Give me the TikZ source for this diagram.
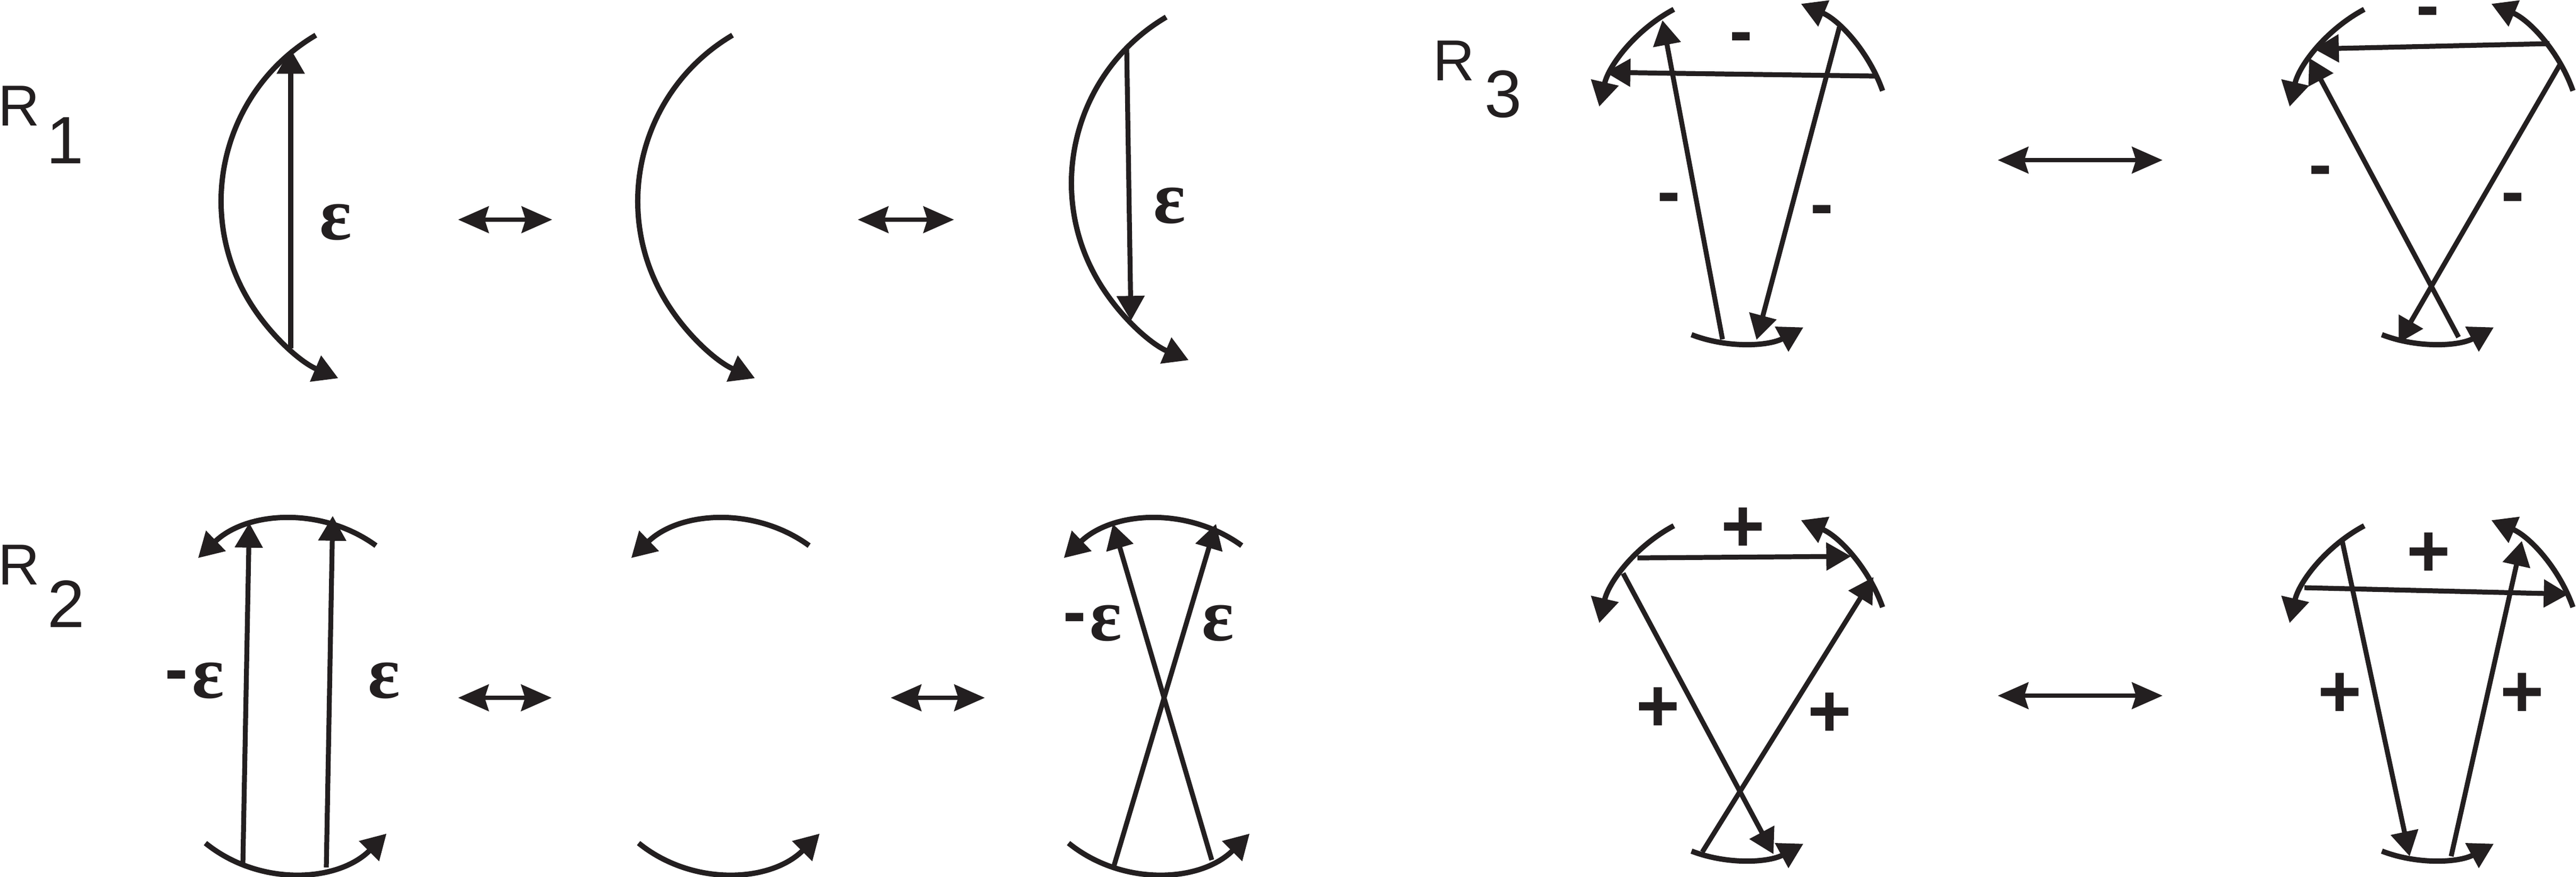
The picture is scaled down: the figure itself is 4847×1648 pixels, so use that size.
\documentclass[tikz,border=0pt]{standalone}
\usepackage{fontspec}
\setmainfont{Liberation Serif}
\setsansfont{Liberation Sans}
\usetikzlibrary{arrows.meta}
\definecolor{ink}{RGB}{35,31,32}

\begin{document}
\begin{tikzpicture}[x=0.0921pt, y=-0.0921pt, ink,
        rim/.style={line width=0.92pt},
        ray/.style={line width=0.85pt},
        tiphead/.style={-{Triangle[length=4.3pt,width=4.7pt]}},
        eqarrow/.style={line width=0.7pt,
            {Stealth[length=5.3pt,width=4.6pt,inset=0.7pt]}-{Stealth[length=5.3pt,width=4.6pt,inset=0.7pt]}},
        lbl/.style={font=\fontsize{10}{12}\selectfont\sffamily, inner sep=0pt, anchor=base},
        subnum/.style={font=\fontsize{11.6}{14}\selectfont\sffamily, inner sep=0pt, anchor=base},
        eps/.style={font=\fontsize{13}{15}\selectfont\rmfamily\bfseries, inner sep=0pt, anchor=base},
        sgn/.style={font=\fontsize{12}{14}\selectfont\sffamily\bfseries, inner sep=0pt, anchor=base},
        plus/.style={font=\fontsize{13}{15}\selectfont\sffamily\bfseries, inner sep=0pt, anchor=base}]
    \useasboundingbox (0,0) rectangle (4847,1648);

    % ---------- R1 ----------
    \node[lbl] (R1) at (36,236) {R};
    \node[subnum] (n1) at (123,307) {1};

    % centres of the arcs
    \coordinate (O1) at (778,378);
    \coordinate (O2) at (1562,378);
    \coordinate (O3) at (2378,344);

    \draw[rim, tiphead] ([shift={(239.5:362)}]O1) arc[start angle=239.5, end angle=113, radius=362];
    \draw[rim, tiphead] ([shift={(239.5:362)}]O2) arc[start angle=239.5, end angle=113, radius=362];
    \draw[rim, tiphead] ([shift={(239.5:362)}]O3) arc[start angle=239.5, end angle=113, radius=362];

    % chords
    \coordinate (p1) at (547,655);
    \coordinate (q1) at (547,92);
    \draw[ray, tiphead] (p1) -- (q1);
    \coordinate (p3) at (2120,93);
    \coordinate (q3) at (2128,603);
    \draw[ray, tiphead] (p3) -- (q3);

    \node[eps] (e1) at (632,450) {ε};
    \node[eps] (e3) at (2201,419) {ε};

    % exchange arrows
    \coordinate (s1) at (862,413);
    \coordinate (t1) at (1039,413);
    \coordinate (s2) at (1614,413);
    \coordinate (t2) at (1795,413);
    \draw[eqarrow] (s1) -- (t1);
    \draw[eqarrow] (s2) -- (t2);

    % ---------- R2 ----------
    \node[lbl] (R2) at (36,1099) {R};
    \node[subnum] (n2) at (125,1179) {2};

    \coordinate (T1) at (554,1237);
    \coordinate (B1) at (547,1387);
    \coordinate (T2) at (1369,1237);
    \coordinate (B2) at (1362,1387);
    \coordinate (T3) at (2183,1237);
    \coordinate (B3) at (2171,1387);

    \draw[rim, tiphead] ([shift={(-54:261)}]T1) arc[start angle=-54, end angle=-134, radius=261];
    \draw[rim, tiphead] ([shift={(129:255)}]B1) arc[start angle=129, end angle=45, radius=255];
    \draw[rim, tiphead] ([shift={(-54:261)}]T2) arc[start angle=-54, end angle=-134, radius=261];
    \draw[rim, tiphead] ([shift={(129:255)}]B2) arc[start angle=129, end angle=45, radius=255];
    \draw[rim, tiphead] ([shift={(-54:261)}]T3) arc[start angle=-54, end angle=-134, radius=261];
    \draw[rim, tiphead] ([shift={(129:255)}]B3) arc[start angle=129, end angle=45, radius=255];

    % parallel chords
    \coordinate (a1) at (457,1624);
    \coordinate (b1) at (469,983);
    \coordinate (a2) at (614,1631);
    \coordinate (b2) at (626,970);
    \draw[ray, tiphead] (a1) -- (b1);
    \draw[ray, tiphead] (a2) -- (b2);

    % crossed chords
    \coordinate (a3) at (2096,1628);
    \coordinate (b3) at (2288,985);
    \coordinate (a4) at (2280,1617);
    \coordinate (b4) at (2094,985);
    \draw[ray, tiphead] (a3) -- (b3);
    \draw[ray, tiphead] (a4) -- (b4);

    \node[sgn] (m1) at (332,1302) {-};
    \node[eps] (e4) at (392,1312) {ε};
    \node[eps] (e5) at (723,1312) {ε};
    \node[sgn] (m2) at (2022,1194) {-};
    \node[eps] (e6) at (2081,1204) {ε};
    \node[eps] (e7) at (2292,1204) {ε};

    \coordinate (s3) at (862,1312);
    \coordinate (t3) at (1038,1312);
    \coordinate (s4) at (1676,1312);
    \coordinate (t4) at (1853,1312);
    \draw[eqarrow] (s3) -- (t3);
    \draw[eqarrow] (s4) -- (t4);

    % ---------- R3 ----------
    \node[lbl] (R3) at (2736,151) {R};
    \node[subnum] (n3) at (2828,220) {3};

    \coordinate (U1) at (3280,263);
    \coordinate (V1) at (3273,394);
    \coordinate (U2) at (4579,263);
    \coordinate (V2) at (4572,394);
    \coordinate (U3) at (3280,1234);
    \coordinate (V3) at (3273,1365);
    \coordinate (U4) at (4579,1234);
    \coordinate (V4) at (4572,1365);

    % upper left
    \draw[rim, tiphead] ([shift={(242:278)}]U1) arc[start angle=242, end angle=193, radius=278];
    \draw[rim, tiphead] ([shift={(-19.4:278)}]U1) arc[start angle=-19.4, end angle=-67, radius=278];
    \draw[rim, tiphead] ([shift={(111:252)}]V1) arc[start angle=111, end angle=61.5, radius=252];
    \coordinate (h1) at (3528,143);
    \coordinate (k1) at (3021,136);
    \coordinate (l1) at (3241,638);
    \coordinate (m1t) at (3128,38);
    \coordinate (r1) at (3461,51);
    \coordinate (r1t) at (3305,639);
    \draw[ray, tiphead] (h1) -- (k1);
    \draw[ray, tiphead] (l1) -- (m1t);
    \draw[ray, tiphead] (r1) -- (r1t);
    \node[sgn] (d1) at (3276,102) {-};
    \node[sgn] (d2) at (3140,404) {-};
    \node[sgn] (d3) at (3428,427) {-};

    % upper right
    \draw[rim, tiphead] ([shift={(242:278)}]U2) arc[start angle=242, end angle=193, radius=278];
    \draw[rim, tiphead] ([shift={(-19.4:278)}]U2) arc[start angle=-19.4, end angle=-67, radius=278];
    \draw[rim, tiphead] ([shift={(111:252)}]V2) arc[start angle=111, end angle=61.5, radius=252];
    \coordinate (h2) at (4797,82);
    \coordinate (k2) at (4354,92);
    \coordinate (l2) at (4626,634);
    \coordinate (m2t) at (4345,109);
    \coordinate (r2) at (4817,121);
    \coordinate (r2t) at (4513,645);
    \draw[ray, tiphead] (h2) -- (k2);
    \draw[ray, tiphead] (l2) -- (m2t);
    \draw[ray, tiphead] (r2) -- (r2t);
    \node[sgn] (d4) at (4568,54) {-};
    \node[sgn] (d5) at (4366,353) {-};
    \node[sgn] (d6) at (4728,404) {-};

    \coordinate (s5) at (3759,301);
    \coordinate (t5) at (4069,301);
    \draw[eqarrow] (s5) -- (t5);

    % lower left
    \draw[rim, tiphead] ([shift={(242:278)}]U3) arc[start angle=242, end angle=193, radius=278];
    \draw[rim, tiphead] ([shift={(-19.4:278)}]U3) arc[start angle=-19.4, end angle=-67, radius=278];
    \draw[rim, tiphead] ([shift={(111:252)}]V3) arc[start angle=111, end angle=61.5, radius=252];
    \coordinate (h3) at (3081,1049);
    \coordinate (k3) at (3483,1046);
    \coordinate (l3) at (3054,1078);
    \coordinate (m3t) at (3337,1606);
    \coordinate (r3) at (3203,1602);
    \coordinate (r3t) at (3525,1085);
    \draw[ray, tiphead] (h3) -- (k3);
    \draw[ray, tiphead] (l3) -- (m3t);
    \draw[ray, tiphead] (r3) -- (r3t);
    \node[plus] (c1) at (3280,1037) {+};
    \node[plus] (c2) at (3120,1375) {+};
    \node[plus] (c3) at (3443,1385) {+};

    % lower right
    \draw[rim, tiphead] ([shift={(242:278)}]U4) arc[start angle=242, end angle=193, radius=278];
    \draw[rim, tiphead] ([shift={(-19.4:278)}]U4) arc[start angle=-19.4, end angle=-67, radius=278];
    \draw[rim, tiphead] ([shift={(111:252)}]V4) arc[start angle=111, end angle=61.5, radius=252];
    \coordinate (h4) at (4336,1105);
    \coordinate (k4) at (4833,1117);
    \coordinate (l4) at (4407,1017);
    \coordinate (m4t) at (4534,1610);
    \coordinate (r4) at (4612,1610);
    \coordinate (r4t) at (4745,1017);
    \draw[ray, tiphead] (h4) -- (k4);
    \draw[ray, tiphead] (l4) -- (m4t);
    \draw[ray, tiphead] (r4) -- (r4t);
    \node[plus] (c4) at (4570,1084) {+};
    \node[plus] (c5) at (4403,1348) {+};
    \node[plus] (c6) at (4746,1348) {+};

    \coordinate (s6) at (3759,1308);
    \coordinate (t6) at (4069,1308);
    \draw[eqarrow] (s6) -- (t6);
\end{tikzpicture}
\end{document}
